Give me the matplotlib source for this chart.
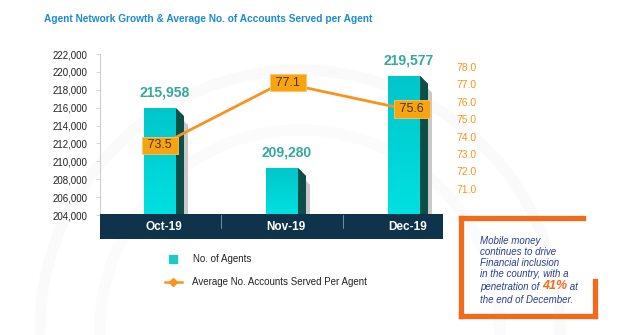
import matplotlib
matplotlib.use("Agg")
import matplotlib.pyplot as plt
import numpy as np
from matplotlib.patches import Rectangle, Polygon
from matplotlib.lines import Line2D
import matplotlib.transforms as mtransforms

plt.rcParams['font.family'] = ['Liberation Sans', 'DejaVu Sans']

# ---- data ----
months = ["Oct-19", "Nov-19", "Dec-19"]
agents = [215958, 209280, 219577]
avg_accounts = [73.5, 77.1, 75.6]
left_ticks = [204000, 206000, 208000, 210000, 212000, 214000, 216000, 218000, 220000, 222000]
right_ticks = [71.0, 72.0, 73.0, 74.0, 75.0, 76.0, 77.0, 78.0]

W, H = 619, 335
fig = plt.figure(figsize=(W / 100, H / 100), dpi=100)
fig.patch.set_facecolor('white')

def fx(px):
    return px / W

def fy(py):
    return 1 - py / H

# faint watermark arcs
wm = fig.add_axes([0, 0, 1, 1], zorder=-5)
wm.set_xlim(0, W); wm.set_ylim(H, 0); wm.axis('off')
th = np.linspace(0, 2 * np.pi, 400)
for r, c in [(260, '#fafafa'), (200, '#fbfbfb')]:
    wm.plot(300 + r * np.cos(th), 330 + r * np.sin(th), color=c, lw=8)

ax_l, ax_r = 100, 443
ax_t, ax_b = 54, 215
ax = fig.add_axes([fx(ax_l), fy(ax_b), fx(ax_r - ax_l), (ax_b - ax_t) / H])
ax.patch.set_alpha(0)
x = np.arange(len(months))
unit = 122.0  # px per category
x0_px = 160
ax.set_xlim((ax_l - x0_px) / unit, (ax_r - x0_px) / unit)
ax.set_ylim(204000, 222000)

bw = 32 / unit
sw = 8 / unit
shw = 4 / unit
ypx = 18000 / (ax_b - ax_t)

for xi, v in zip(x, agents):
    xl = xi - bw / 2
    xr = xi + bw / 2
    # shadow
    ax.add_patch(Polygon([(xr + sw, v - 13 * ypx), (xr + sw + shw, v - 17 * ypx),
                          (xr + sw + shw, 204000), (xr + sw, 204000)],
                         closed=True, fc='#c9c9c9', ec='none', zorder=1))
    # side
    ax.add_patch(Polygon([(xr, v), (xr + sw, v - 8 * ypx), (xr + sw, 204000), (xr, 204000)],
                         closed=True, fc='#0b4f46', ec='none', zorder=2))
    # front with gradient
    bar = Rectangle((xl, 204000), bw, v - 204000, fc='#00cfd2', ec='none', zorder=3)
    ax.add_patch(bar)
    grad = np.linspace(0, 1, 100).reshape(-1, 1)
    im = ax.imshow(grad, extent=(xl, xr, 204000, v), aspect='auto', origin='lower',
                   cmap=matplotlib.colors.LinearSegmentedColormap.from_list(
                       'g', ['#00e0e0', '#00c6ca']), zorder=3.5)
    im.set_clip_path(bar)
    ax.annotate(f"{v:,}", (xi, v), xytext=(3, 6), textcoords='offset points',
                ha='center', va='bottom', fontsize=10, fontweight='bold',
                color='#33a99c', zorder=6)

ax.set_yticks(left_ticks)
ax.set_yticklabels([f"{t:,}" for t in left_ticks], fontsize=7, color='#222222')
ax.set_xticks([])
for s in ['top', 'right', 'bottom']:
    ax.spines[s].set_visible(False)
ax.spines['left'].set_color('#cfcfcf')
ax.spines['left'].set_linewidth(0.8)
ax.tick_params(axis='y', length=3, width=0.6, color='#cfcfcf', pad=6)

# category band
band = Rectangle((fx(ax_l), fy(239)), fx(ax_r - ax_l), 25 / H, transform=fig.transFigure,
                 fc='#0e334a', ec='none', zorder=10)
fig.add_artist(band)
trans = mtransforms.blended_transform_factory(ax.transData, fig.transFigure)
for d in [0.5, 1.5]:
    fig.add_artist(Line2D([d, d], [fy(215), fy(228)], transform=trans, color='#8a9aa5',
                          lw=0.6, zorder=11))
for xi, m in zip(x, months):
    fig.text(xi + 4 / unit, fy(227), m, transform=trans, ha='center', va='center',
             color='white', fontsize=8.5, fontweight='bold', zorder=12)

# right axis line
ax2 = ax.twinx()
ax2.set_ylim(69.5, 78.75)
ax2.plot(x, avg_accounts, color='#f7931e', lw=2, zorder=5)
offs = [0, 6, 8]
for xi, v, o in zip(x, avg_accounts, offs):
    ax2.annotate(f" {v:.1f} ", (xi, v), xytext=(o * 0.72, 0), textcoords='offset points',
                 ha='center', va='center', fontsize=9, color='#4a3510', zorder=7,
                 bbox=dict(boxstyle='square,pad=0.22', fc='#f8a411', ec='#fbc46a', lw=0.6))
ax2.set_yticks(right_ticks)
ax2.set_yticklabels([f"{t:.1f}" for t in right_ticks], fontsize=7.5, color='#f7931e')
ax2.tick_params(axis='y', length=0, pad=10)
for s in ax2.spines.values():
    s.set_visible(False)

# title
fig.text(fx(44), fy(19), "Agent Network Growth & Average No. of Accounts Served per Agent",
         ha='left', va='center', fontsize=7.3, fontweight='bold', color='#1b8bd2')

# legend
fig.add_artist(Line2D([fx(173)], [fy(259)], marker='s', ms=5.5, color='#1ec8c4',
                      transform=fig.transFigure, lw=0))
fig.text(fx(193), fy(259), "No. of Agents", ha='left', va='center', fontsize=7, color='#222222')
fig.add_artist(Line2D([fx(165), fx(182)], [fy(282), fy(282)], color='#f7931e', lw=1.8,
                      transform=fig.transFigure))
fig.add_artist(Line2D([fx(173.5)], [fy(282)], marker='D', ms=4, color='#f7931e',
                      transform=fig.transFigure, lw=0))
fig.text(fx(192), fy(282), "Average No. Accounts Served Per Agent", ha='left', va='center',
         fontsize=7, color='#222222')

# text box frame
oc = '#f26b1d'
lw = 3.8
def seg(xs, ys):
    fig.add_artist(Line2D([fx(a) for a in xs], [fy(b) for b in ys], color=oc, lw=lw,
                          solid_capstyle='projecting', transform=fig.transFigure))
seg([461, 583], [217.5, 217.5])
seg([461, 461], [217.5, 315.5])
seg([461, 594.5], [315.5, 315.5])
seg([594.5, 594.5], [281, 315.5])

tc = '#2b3f8f'
lines = ["Mobile money", "continues to drive", "Financial inclusion", "in the country, with a"]
ys = [241, 252, 263, 274]
for t, yy in zip(lines, ys):
    fig.text(fx(480), fy(yy), t, ha='left', va='center', fontsize=7, style='italic', color=tc)
t1 = fig.text(fx(480), fy(290), "penetration of ", ha='left', va='baseline', fontsize=7,
              style='italic', color=tc)
t2 = ax.annotate("41%", xy=(1, 0), xycoords=t1, ha='left', va='bottom', fontsize=9,
                 fontweight='bold', style='italic', color='#f26b1d', annotation_clip=False)
t3 = ax.annotate(" at", xy=(1, 0), xycoords=t2, ha='left', va='bottom', fontsize=7,
                 style='italic', color=tc, annotation_clip=False)
fig.text(fx(480), fy(300), "the end of December.", ha='left', va='center', fontsize=7,
         style='italic', color=tc)

fig.savefig("out.png", dpi=100)
